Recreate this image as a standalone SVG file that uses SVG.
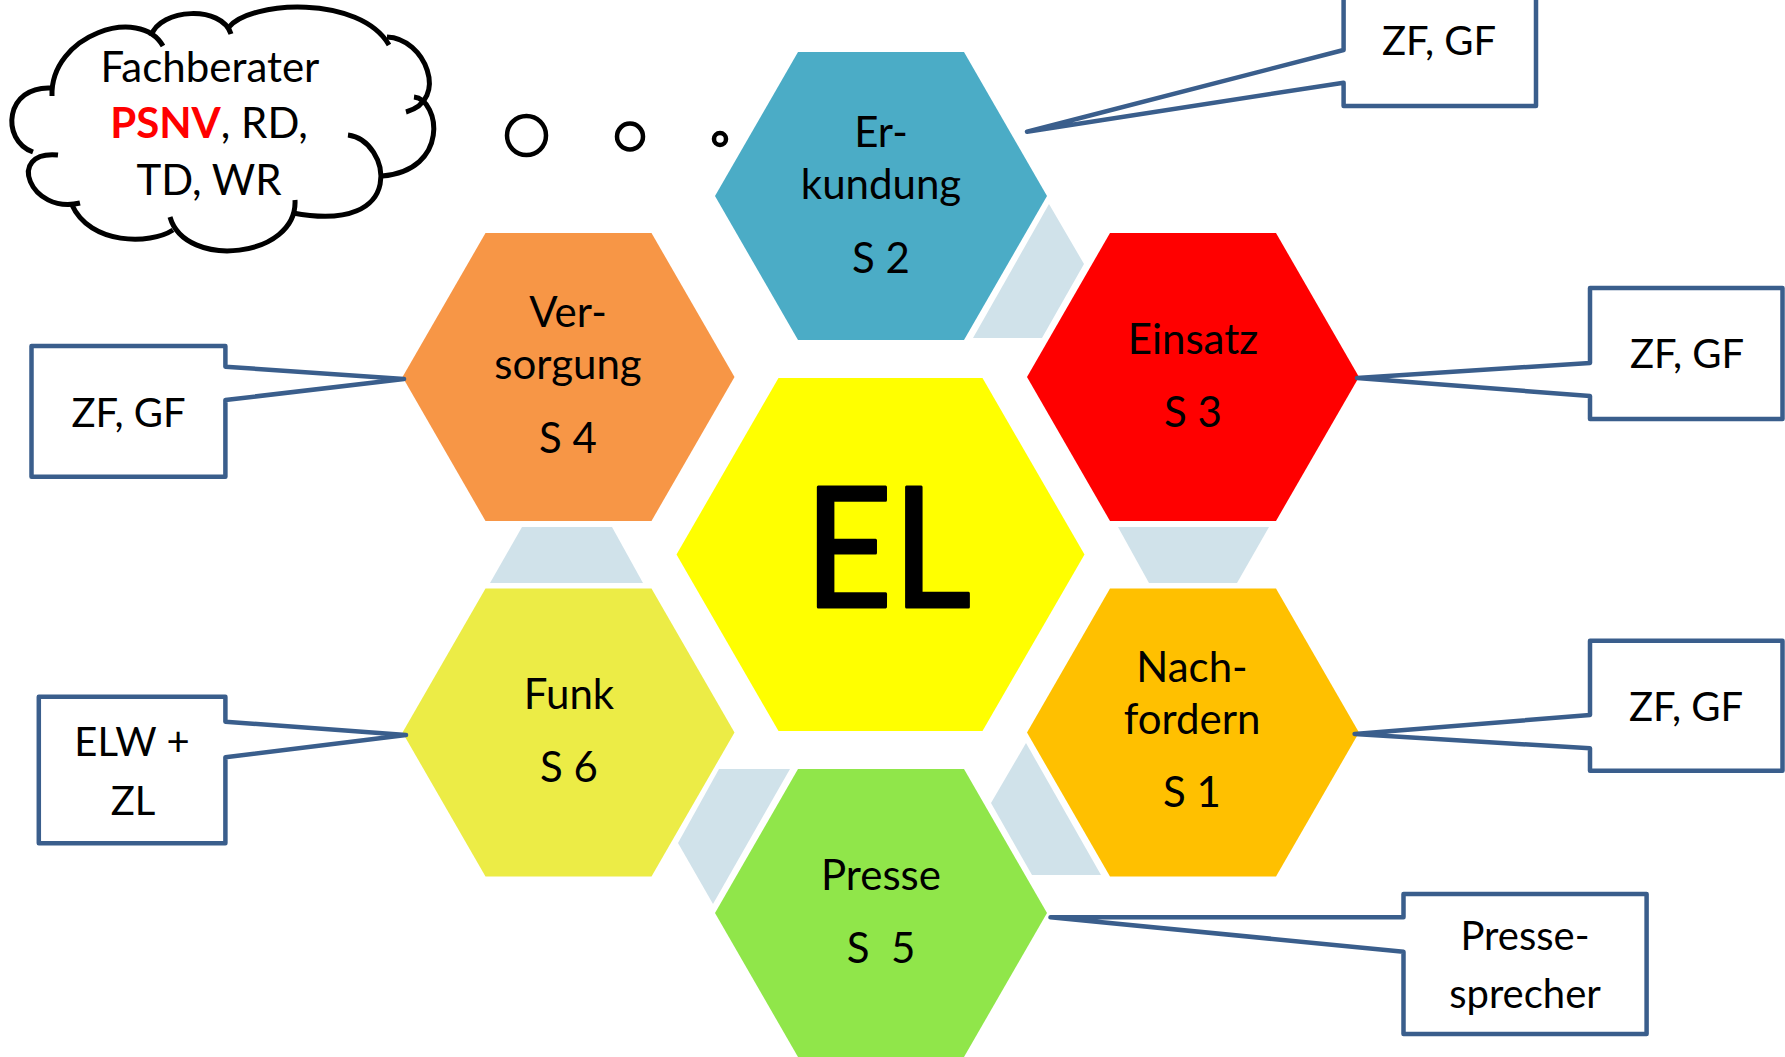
<svg xmlns="http://www.w3.org/2000/svg" width="1785" height="1057" viewBox="0 0 1785 1057">
  <style>
    text { font-family: Lato, "Open Sans", "Liberation Sans", sans-serif; fill: #000; text-anchor: middle; }
    .hexlabel { font-size: 42px; }
    .note { font-size: 40px; }
    .callout { fill: #fff; stroke: #3A5E8C; stroke-width: 4.5; stroke-linejoin: round; }
    .link { fill: #D0E2EA; }
    .cloud { fill: none; stroke: #000; stroke-width: 5; stroke-linecap: butt; }
    .bubble { fill: #fff; stroke: #000; stroke-width: 4.5; }
  </style>
  <rect width="1785" height="1057" fill="#fff"/>

  <!-- light links between neighbouring satellites -->
  <g id="connectors">
    <polygon class="link" points="1049,204 1084,264 1042,338 973,338"/>
    <polygon class="link" points="522,527 612,527 643,583 490,583"/>
    <polygon class="link" points="1118,527 1269,527 1237,583 1149,583"/>
    <polygon class="link" points="719,769 790,769 713,904 678,843"/>
    <polygon class="link" points="1026,743 1101,875 1032,875 991,803"/>
  </g>

  <!-- centre -->
  <g id="el">
    <polygon fill="#FFFF00" points="676.5,554.5 778.5,378 982.5,378 1084.5,554.5 982.5,731 778.5,731"/>
    <text transform="translate(887.5,607) scale(0.92,1)" x="0" y="0" stroke="#000" stroke-width="3" stroke-linejoin="round" style="font-size:166px">EL</text>
  </g>

  <g id="erkundung">
    <polygon fill="#4BACC6" points="715,196 798,52 964,52 1047,196 964,340 798,340"/>
    <text class="hexlabel" x="881" y="147">Er-</text>
    <text class="hexlabel" x="881" y="199">kundung</text>
    <text class="hexlabel" x="881" y="273">S 2</text>
  </g>

  <g id="versorgung">
    <polygon fill="#F79646" points="402.5,377 485.5,233 651.5,233 734.5,377 651.5,521 485.5,521"/>
    <text class="hexlabel" x="568" y="327">Ver-</text>
    <text class="hexlabel" x="568" y="379">sorgung</text>
    <text class="hexlabel" x="568" y="453">S 4</text>
  </g>

  <g id="einsatz">
    <polygon fill="#FF0000" points="1027,377 1110,233 1276,233 1359,377 1276,521 1110,521"/>
    <text class="hexlabel" x="1193" y="354">Einsatz</text>
    <text class="hexlabel" x="1193" y="427">S 3</text>
  </g>

  <g id="funk">
    <polygon fill="#ECEC46" points="402.5,732.5 485.5,588.5 651.5,588.5 734.5,732.5 651.5,876.5 485.5,876.5"/>
    <text class="hexlabel" x="569" y="709">Funk</text>
    <text class="hexlabel" x="569" y="782">S 6</text>
  </g>

  <g id="nachfordern">
    <polygon fill="#FFC000" points="1027,732.5 1110,588.5 1276,588.5 1359,732.5 1276,876.5 1110,876.5"/>
    <text class="hexlabel" x="1192" y="682">Nach-</text>
    <text class="hexlabel" x="1192" y="734">fordern</text>
    <text class="hexlabel" x="1192" y="807">S 1</text>
  </g>

  <g id="presse">
    <polygon fill="#90E64A" points="715,913 798,769 964,769 1047,913 964,1057 798,1057"/>
    <text class="hexlabel" x="881" y="890">Presse</text>
    <text class="hexlabel" x="881" y="963" xml:space="preserve">S  5</text>
  </g>

  <!-- callouts -->
  <g id="note-erkundung">
    <path class="callout" d="M1343.6,-10 H1536 V106 H1343.6 V82.7 L1027,131.7 L1343.6,50 Z"/>
    <text class="note" x="1439" y="55">ZF, GF</text>
  </g>
  <g id="note-einsatz">
    <path class="callout" d="M1590,288 H1782.5 V419 H1590 V396 L1357,378 L1590,363 Z"/>
    <text class="note" x="1687" y="368">ZF, GF</text>
  </g>
  <g id="note-nachfordern">
    <path class="callout" d="M1590,640.7 H1782.5 V770.7 H1590 V748.3 L1354.6,734 L1590,715 Z"/>
    <text class="note" x="1686" y="721">ZF, GF</text>
  </g>
  <g id="note-presse">
    <path class="callout" d="M1403.5,894 H1646.6 V1034 H1403.5 V951.7 L1050.5,917.3 L1403.5,917.3 Z"/>
    <text class="note" x="1525" y="950">Presse-</text>
    <text class="note" x="1525" y="1008">sprecher</text>
  </g>
  <g id="note-versorgung">
    <path class="callout" d="M31.5,346 H225.4 V366.7 L404,379 L225.4,400 V476.7 H31.5 Z"/>
    <text class="note" x="128.5" y="427">ZF, GF</text>
  </g>
  <g id="note-funk">
    <path class="callout" d="M38.8,696.7 H225.4 V721.7 L406,735 L225.4,757.3 V843.3 H38.8 Z"/>
    <text class="note" x="132" y="756">ELW +</text>
    <text class="note" x="133" y="815">ZL</text>
  </g>

  <!-- thought cloud -->
  <g id="fachberater">
    <path class="cloud" d="M52,96 C50,35 140,5 163,46"/>
    <path class="cloud" d="M151,36 C160,8 222,5 231,34"/>
    <path class="cloud" d="M228,28 C250,0 360,-5 389,45"/>
    <path class="cloud" d="M387,37 C425,38 450,100 406,112"/>
    <path class="cloud" d="M414,97 C440,100 450,170 382,176"/>
    <path class="cloud" d="M348,135 C390,140 410,235 293,213"/>
    <path class="cloud" d="M295,200 C298,258 185,270 170,217"/>
    <path class="cloud" d="M173,230 C150,245 90,245 72,205"/>
    <path class="cloud" d="M80,203 C30,215 5,150 58,155"/>
    <path class="cloud" d="M33,152 C0,140 5,85 52,88"/>
    <text style="font-size:42px" x="210" y="82">Fachberater</text>
    <text style="font-size:42px" x="209" y="138"><tspan fill="#FF0000" font-weight="bold">PSNV</tspan>, RD,</text>
    <text style="font-size:42px" x="209" y="195">TD, WR</text>
    <circle class="bubble" cx="526.5" cy="135.5" r="19.5"/>
    <circle class="bubble" cx="630" cy="136.5" r="13"/>
    <circle class="bubble" cx="720" cy="139" r="6"/>
  </g>
</svg>
